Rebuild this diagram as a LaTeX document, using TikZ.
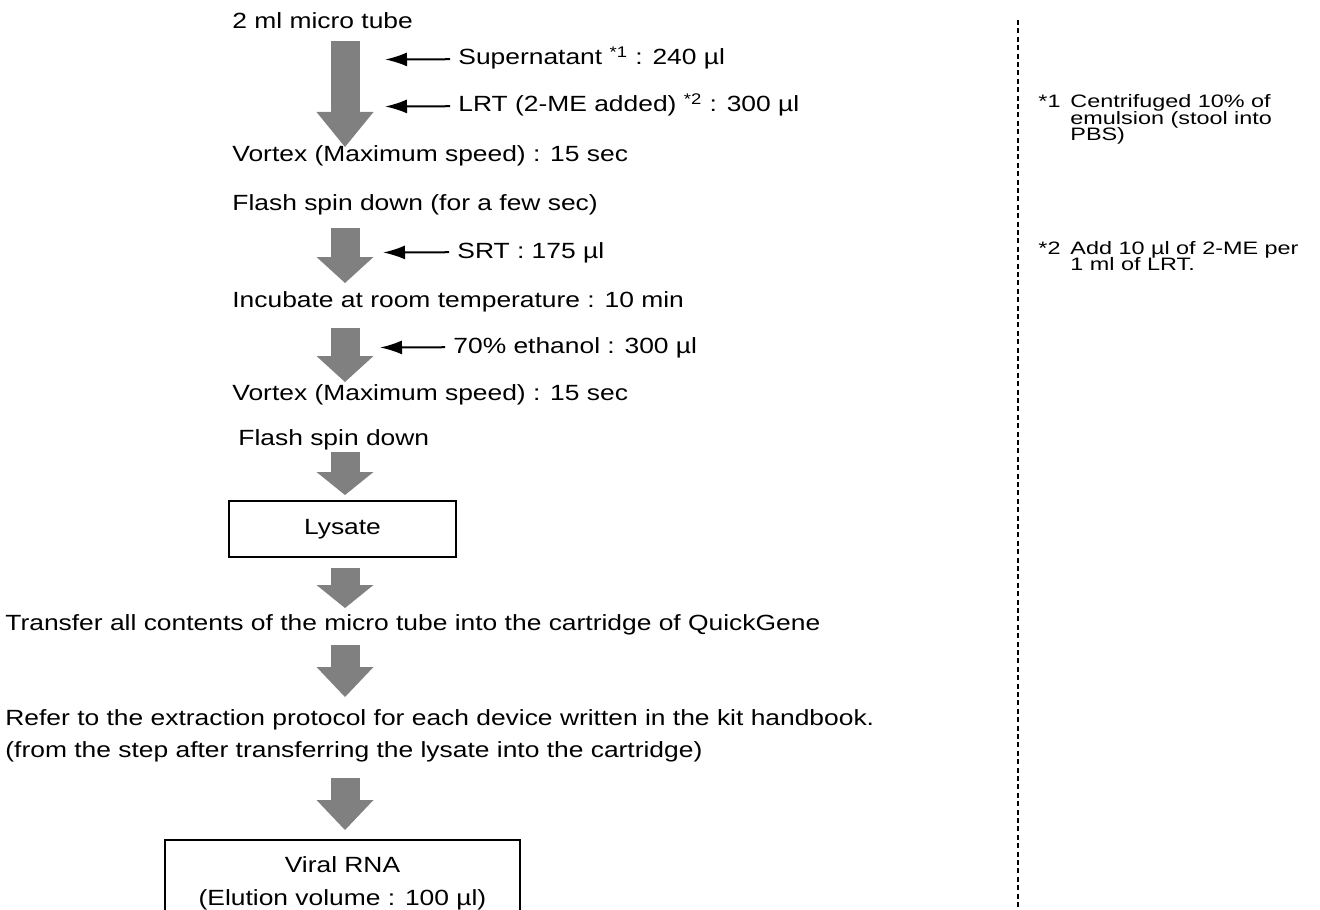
\documentclass[tikz,border=0pt]{standalone}
\usepackage{fontspec}
\setmainfont{Liberation Sans}[FakeStretch=1.2]
\newfontfamily\notefamily{Liberation Sans}[FakeStretch=1.3]
\usepackage{xcolor}
\usepackage{tikz}
\usetikzlibrary{arrows.meta,positioning}
\definecolor{arrowgray}{RGB}{128,128,128}
\newcommand{\notefont}{\notefamily\fontsize{9pt}{8.2pt}\selectfont\lineskiplimit=-5pt\relax}

\begin{document}
\begin{tikzpicture}[x=0.5pt,y=-0.5pt,every node/.style={inner sep=0pt,font=\fontsize{11pt}{13pt}\selectfont},
stepnode/.style={anchor=base west,text height=8pt,text depth=2.2pt},
flowbox/.style={draw,line width=0.9pt,align=center},
bigarrow/.style={draw=arrowgray,line width=14.5pt,-{Triangle[width=28.5pt,length=#1,line width=0pt]}},bigarrow/.default=13pt,
addarrow/.style={line width=1pt,-{Latex[length=11pt,width=7pt]},shorten <=4pt},
notemark/.style={anchor=base west,font=\notefont},
notetext/.style={anchor=north west,align=left,font=\notefont},
sepline/.style={line width=0.6pt,dash pattern=on 2.5pt off 1.7pt}]
\useasboundingbox (0,0) rectangle (1320,909);
\node[stepnode](tube) at (232,29) {2 ml micro tube};
\node[stepnode](super) at (458,65) {Supernatant \textsuperscript{*1} : 240 µl};
\node[stepnode](lrt) at (458,112) {LRT (2-ME added) \textsuperscript{*2} : 300 µl};
\node[stepnode](vortexa) at (232,162) {Vortex (Maximum speed) : 15 sec};
\node[stepnode](spina) at (232,211) {Flash spin down (for a few sec)};
\node[stepnode](srt) at (457,258) {SRT : 175 µl};
\node[stepnode](incub) at (232,307) {Incubate at room temperature : 10 min};
\node[stepnode](ethanol) at (453,353) {70\% ethanol : 300 µl};
\node[stepnode](vortexb) at (232,400) {Vortex (Maximum speed) : 15 sec};
\node[stepnode](spinb) at (238,445) {Flash spin down};
\node[flowbox,minimum width=113.5pt,minimum height=28pt](lysate) at (342.5,529) {Lysate};
\node[stepnode](transfer) at (5,630) {Transfer all contents of the micro tube into the cartridge of QuickGene};
\node[stepnode](refer) at (5,725) {Refer to the extraction protocol for each device written in the kit handbook.};
\node[stepnode](refernote) at (5,757) {(from the step after transferring the lysate into the cartridge)};
\node[flowbox,anchor=north,minimum width=177.5pt,minimum height=43pt,font=\fontsize{11pt}{16.5pt}\selectfont](rna) at (342.5,839) {Viral RNA\\(Elution volume : 100 µl)};
\node[notemark](fn1mark) at (1038,108) {*1};
\node[notetext](fn1) at (1070,94.5) {Centrifuged 10\% of\\emulsion (stool into\\PBS)};
\node[notemark](fn2mark) at (1038,254) {*2};
\node[notetext](fn2) at (1070,241) {Add 10 µl of 2-ME per\\1 ml of LRT.};
\coordinate (supertip) at (385,59.5); \coordinate (lrttip) at (385,106.5); \coordinate (srttip) at (383,252.5); \coordinate (ethanoltip) at (380,347.5);
\draw[addarrow](super.west)--(supertip); \draw[addarrow](lrt.west)--(lrttip); \draw[addarrow](srt.west)--(srttip); \draw[addarrow](ethanol.west)--(ethanoltip);
\coordinate (a1s) at (345,41); \coordinate (a1e) at (345,147);
\coordinate (a2s) at (345,228); \coordinate (a2e) at (345,283);
\coordinate (a3s) at (345,328); \coordinate (a3e) at (345,382);
\coordinate (a4s) at (345,452); \coordinate (a4e) at (345,495);
\coordinate (a5s) at (345,568); \coordinate (a5e) at (345,608);
\coordinate (a6s) at (345,645); \coordinate (a6e) at (345,697);
\coordinate (a7s) at (345,778); \coordinate (a7e) at (345,830);
\draw[bigarrow=17.5pt](a1s)--(a1e); \draw[bigarrow](a2s)--(a2e); \draw[bigarrow](a3s)--(a3e); \draw[bigarrow=11.5pt](a4s)--(a4e);
\draw[bigarrow=11.5pt](a5s)--(a5e); \draw[bigarrow=15pt](a6s)--(a6e); \draw[bigarrow=15pt](a7s)--(a7e);
\coordinate (septop) at (1018,20); \coordinate (sepbot) at (1018,909);
\draw[sepline](septop)--(sepbot);
\end{tikzpicture}
\end{document}
